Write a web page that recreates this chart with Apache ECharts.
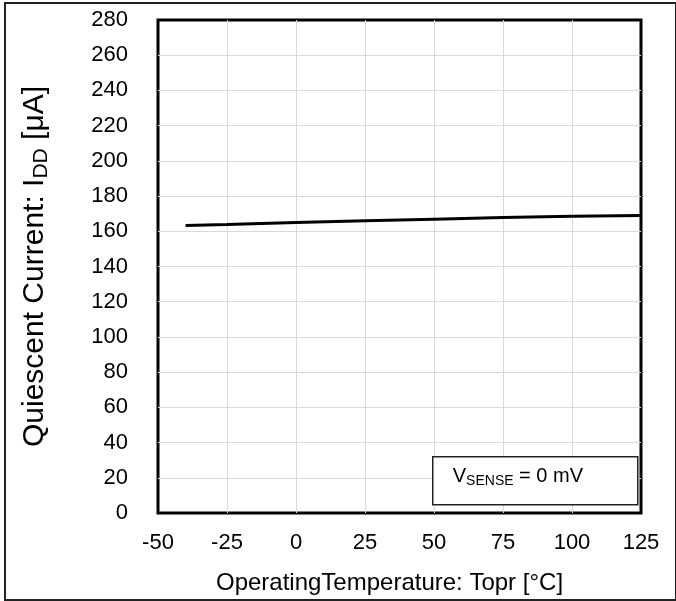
<!DOCTYPE html>
<html><head><meta charset="utf-8">
<script src="https://cdn.jsdelivr.net/npm/echarts@6/dist/echarts.min.js"></script>
<style>
html,body{margin:0;padding:0;background:#fff;}
#frame{position:absolute;left:4px;top:2px;width:669px;height:595px;border:2px solid #222;box-sizing:content-box;}
#c{position:absolute;left:0;top:0;width:676px;height:601px;}
</style></head>
<body>
<div id="frame"></div>
<div id="c"></div>
<script>
const temperatures = [-40, -25, 0, 25, 50, 75, 100, 125];
const quiescentCurrent = [163.3, 163.9, 165.0, 166.0, 166.9, 167.8, 168.5, 169.0];
const xTicks = {min: -50, max: 125, interval: 25};
const yTicks = {min: 0, max: 280, interval: 20};
const xTitle = 'OperatingTemperature: Topr [°C]';
const yTitle = '{n|Quiescent Current: I}{s|DD}{n| [μA]}';
const annotation = '{n|V}{s|SENSE}{n| = 0 mV}';

const chart = echarts.init(document.getElementById('c'));
const font = 'Liberation Sans, Arial, sans-serif';
chart.setOption({
  animation: false,
  grid: {left: 158, right: 35, top: 20, bottom: 88, show: true, borderColor: '#000', borderWidth: 3, backgroundColor: 'transparent'},
  xAxis: {
    type: 'value', min: xTicks.min, max: xTicks.max, interval: xTicks.interval,
    name: xTitle, nameLocation: 'middle', nameGap: 58,
    nameTextStyle: {fontFamily: font, fontSize: 24, color: '#000', padding: [0, 20, 0, 0]},
    axisLine: {show: false}, axisTick: {show: false},
    axisLabel: {fontFamily: font, fontSize: 22, color: '#000', margin: 19},
    splitLine: {show: true, showMinLine: false, showMaxLine: false, lineStyle: {color: '#d9d9d9', width: 1}}
  },
  yAxis: {
    type: 'value', min: yTicks.min, max: yTicks.max, interval: yTicks.interval,
    name: yTitle, nameLocation: 'middle', nameGap: 106,
    nameTextStyle: {fontFamily: font, fontSize: 30, color: '#000',
      rich: {n: {fontFamily: font, fontSize: 30, color: '#000'}, s: {fontFamily: font, fontSize: 21, color: '#000', padding: [14, 0, 0, 0]}}},
    axisLine: {show: false}, axisTick: {show: false},
    axisLabel: {fontFamily: font, fontSize: 22, color: '#000', margin: 30},
    splitLine: {show: true, showMinLine: false, showMaxLine: false, lineStyle: {color: '#d9d9d9', width: 1}}
  },
  series: [{
    type: 'line', data: temperatures.map((t, i) => [t, quiescentCurrent[i]]),
    showSymbol: false, smooth: false,
    lineStyle: {color: '#000', width: 3}
  }],
  graphic: [{
    type: 'group', left: 432, top: 456, z: 100,
    children: [
      {type: 'rect', z: 100, shape: {x: 0, y: 0, width: 205, height: 48}, style: {fill: '#fff', stroke: '#222', lineWidth: 1.5}},
      {type: 'text', z: 101, left: 20, top: 10, style: {text: annotation, fontFamily: font,
        rich: {n: {fontFamily: font, fontSize: 20, fill: '#000'}, s: {fontFamily: font, fontSize: 14, fill: '#000', padding: [9, 0, 0, 0]}}}}
    ]
  }]
});
</script>
</body></html>
